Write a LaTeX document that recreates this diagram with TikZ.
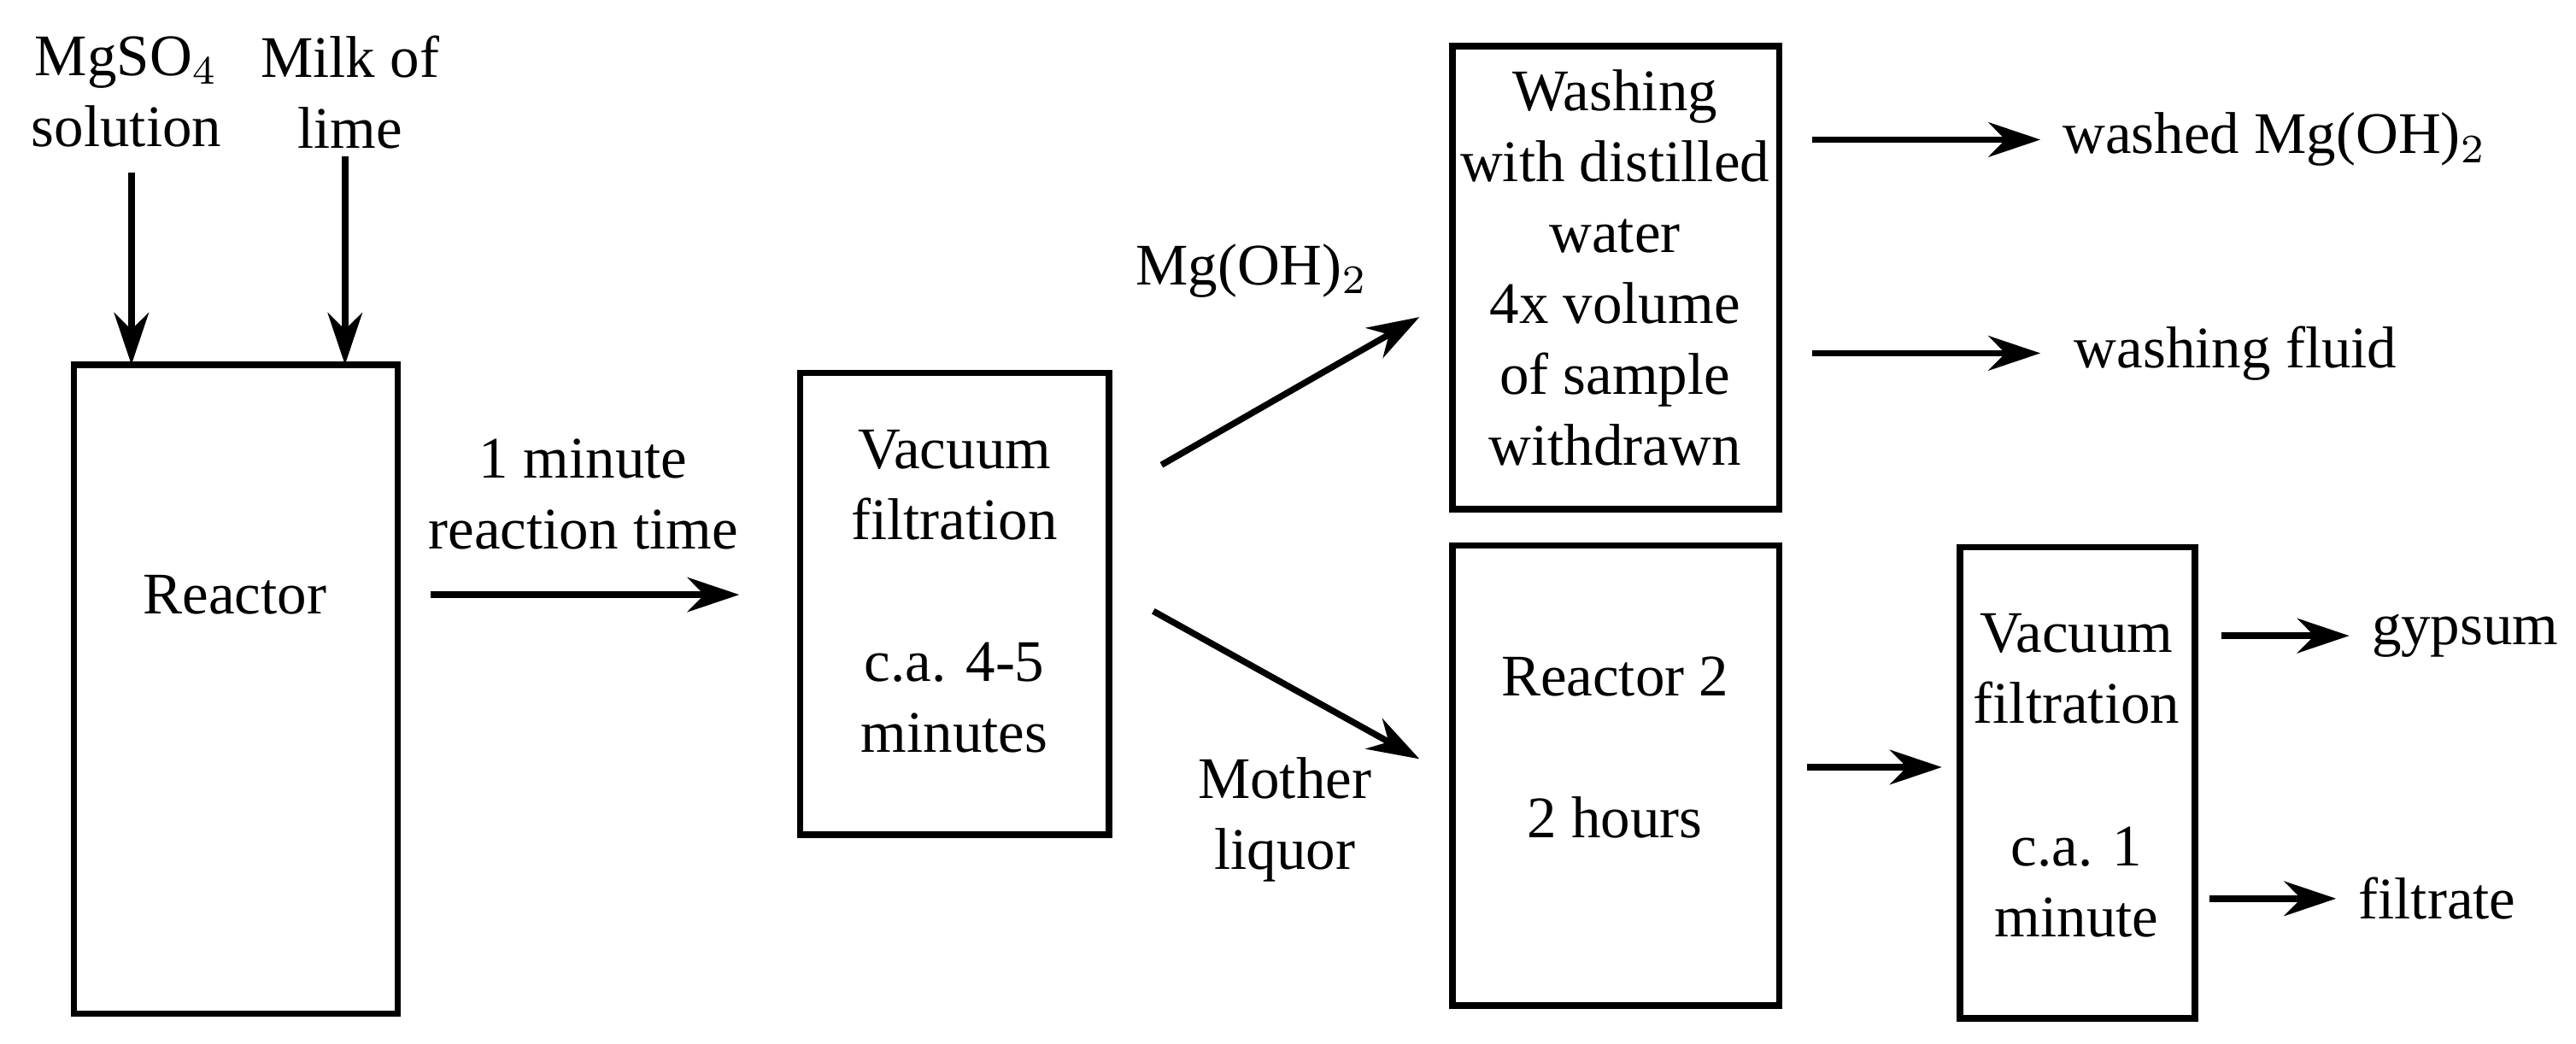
\documentclass[tikz,border=0pt]{standalone}
\usepackage{fontspec}
\setmainfont{Liberation Serif}
\usetikzlibrary{arrows.meta}
\begin{document}
\begin{tikzpicture}[x=0.01cm,y=-0.01cm,
  txt/.style={font=\fontsize{10.2}{12.3}\selectfont,align=center,inner sep=0pt},
  arr/.style={line width=1.1pt,-{Stealth[length=9pt,width=6pt]}}]
\useasboundingbox (0,0) rectangle (1568,635);
% boxes
\draw[line width=1.1pt] (45,222) rectangle (242,617);
\node[txt] (r1) at (143,362) {Reactor};
\draw[line width=1.1pt] (487,227) rectangle (675,508);
\node[txt] (vf1) at (581,360) {Vacuum\\filtration\\[\baselineskip]c.a. 4-5\\minutes};
\draw[line width=1.1pt] (884,28) rectangle (1083,310);
\node[txt] (wash) at (983,163) {Washing\\with distilled\\water\\4x volume\\of sample\\withdrawn};
\draw[line width=1.1pt] (884,332) rectangle (1083,612);
\node[txt] (r2) at (983,455) {Reactor 2\\[\baselineskip]2 hours};
\draw[line width=1.1pt] (1193,333) rectangle (1336,620);
\node[txt] (vf2) at (1264,472) {Vacuum\\filtration\\[\baselineskip]c.a. 1\\minute};
% inputs
\node[txt] (mg) at (77,56) {MgSO$_4$\\solution};
\node[txt] (ml) at (213,56) {Milk of\\lime};
\coordinate (a1) at (80,105); \coordinate (a2) at (80,222);
\coordinate (b1) at (210,95); \coordinate (b2) at (210,222);
\draw[arr] (a1) -- (a2);
\draw[arr] (b1) -- (b2);
% reactor -> vf
\coordinate (c1) at (262,362); \coordinate (c2) at (450,362);
\draw[arr] (c1) -- (c2);
\node[txt] (l1) at (355,301) {1 minute\\reaction time};
% split
\coordinate (d1) at (707,283); \coordinate (d2) at (864,193);
\draw[arr] (d1) -- (d2);
\node[txt] (l2) at (762,165) {Mg(OH)$_2$};
\coordinate (e1) at (702,372); \coordinate (e2) at (864,462);
\draw[arr] (e1) -- (e2);
\node[txt] (l3) at (782,499) {Mother\\liquor};
% washing outputs
\coordinate (f1) at (1103,85); \coordinate (f2) at (1242,85);
\draw[arr] (f1) -- (f2);
\node[txt,anchor=west] (o1) at (1255,85) {washed Mg(OH)$_2$};
\coordinate (g1) at (1103,215); \coordinate (g2) at (1242,215);
\draw[arr] (g1) -- (g2);
\node[txt,anchor=west] (o2) at (1262,215) {washing fluid};
% reactor2 -> vf2
\coordinate (h1) at (1100,467); \coordinate (h2) at (1182,467);
\draw[arr] (h1) -- (h2);
\coordinate (i1) at (1352,387); \coordinate (i2) at (1430,387);
\draw[arr] (i1) -- (i2);
\node[txt,anchor=west] (o3) at (1443,387) {gypsum};
\coordinate (j1) at (1345,547); \coordinate (j2) at (1422,547);
\draw[arr] (j1) -- (j2);
\node[txt,anchor=west] (o4) at (1435,547) {filtrate};
\end{tikzpicture}
\end{document}
